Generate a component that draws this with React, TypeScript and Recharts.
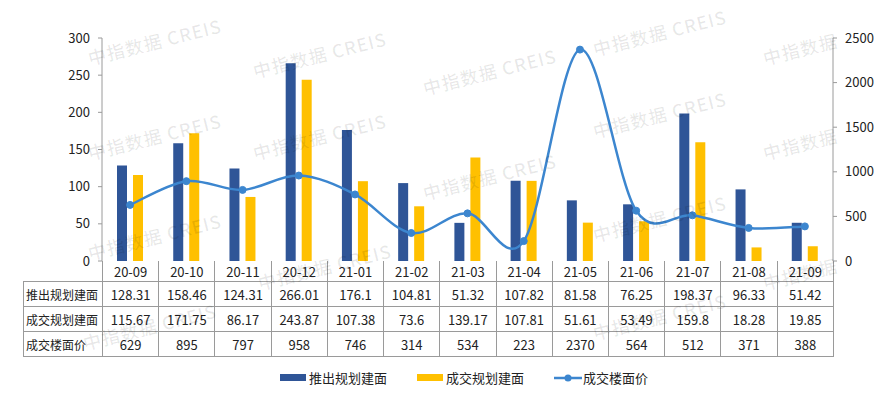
import { ComposedChart, Bar, Line, XAxis, YAxis } from "recharts";

const months = ["20-09", "20-10", "20-11", "20-12", "21-01", "21-02", "21-03", "21-04", "21-05", "21-06", "21-07", "21-08", "21-09"];
const launched = [128.31, 158.46, 124.31, 266.01, 176.1, 104.81, 51.32, 107.82, 81.58, 76.25, 198.37, 96.33, 51.42];
const traded = [115.67, 171.75, 86.17, 243.87, 107.38, 73.6, 139.17, 107.81, 51.61, 53.49, 159.8, 18.28, 19.85];
const price = [629, 895, 797, 958, 746, 314, 534, 223, 2370, 564, 512, 371, 388];

const seriesNames = ["推出规划建面", "成交规划建面", "成交楼面价"];
const leftTicks = [0, 50, 100, 150, 200, 250, 300];
const rightTicks = [0, 500, 1000, 1500, 2000, 2500];

const BLUE = "#2F5597";
const YELLOW = "#FFC000";
const LINE = "#3C86CF";
const GRID = "#9a9a9a";
const FONT = '"Noto Sans CJK SC", "Noto Sans", sans-serif';

const W = 882;
const H = 395;
const PLOT_L = 102;
const PLOT_R = 833;
const PLOT_T = 38;
const PLOT_B = 261;

// watermark spots, rough reading of the tiled stamp
const marks: [number, number, string][] = [
  [85, 45, "中指数据 CREIS"], [250, 140, "中指数据 CREIS"], [85, 140, "中指数据 CREIS"],
  [85, 240, "中指数据 CREIS"], [255, 270, "中指数据 CREIS"], [420, 75, "中指数据 CREIS"],
  [420, 180, "中指数据 CREIS"], [590, 36, "中指数据 CREIS"], [590, 118, "中指数据 CREIS"],
  [590, 222, "中指数据 CREIS"], [760, 45, "中指数据"], [760, 140, "中指数据"],
  [250, 58, "中指数据 CREIS"], [80, 330, "中指数据 CREIS"], [590, 320, "中指数据 CREIS"],
  [760, 270, "中指数据"],
];

const data = months.map((m, i) => ({
  month: m,
  launched: launched[i],
  traded: traded[i],
  price: price[i],
}));

// Excel style smoothed line (Catmull-Rom -> bezier)
function excelCurve(context: any) {
  let pts: [number, number][] = [];
  return {
    areaStart() {},
    areaEnd() {},
    lineStart() {
      pts = [];
    },
    point(x: number, y: number) {
      pts.push([+x, +y]);
    },
    lineEnd() {
      if (!pts.length) return;
      context.moveTo(pts[0][0], pts[0][1]);
      for (let i = 0; i < pts.length - 1; i++) {
        const p0 = pts[i - 1] || pts[i];
        const p1 = pts[i];
        const p2 = pts[i + 1];
        const p3 = pts[i + 2] || p2;
        context.bezierCurveTo(
          p1[0] + (p2[0] - p0[0]) / 6,
          p1[1] + (p2[1] - p0[1]) / 6,
          p2[0] - (p3[0] - p1[0]) / 6,
          p2[1] - (p3[1] - p1[1]) / 6,
          p2[0],
          p2[1]
        );
      }
    },
  };
}

const cell: React.CSSProperties = {
  border: `1px solid ${GRID}`,
  textAlign: "center",
  padding: 0,
  height: 24,
  whiteSpace: "nowrap",
  overflow: "hidden",
};

const rows: [string, (string | number)[]][] = [
  [seriesNames[0], launched],
  [seriesNames[1], traded],
  [seriesNames[2], price],
];

export default function App() {
  const colW = (PLOT_R - PLOT_L) / months.length;
  return (
    <div style={{ position: "relative", width: W, height: H, background: "#fff", fontFamily: FONT, color: "#222", overflow: "hidden" }}>
      <style>{"body{margin:0}"}</style>
      <ComposedChart
        width={W}
        height={H}
        data={data}
        margin={{ top: PLOT_T, right: 0, bottom: H - PLOT_B, left: 0 }}
        barGap={6}
        barCategoryGap={0}
      >
        <XAxis dataKey="month" xAxisId="x" tick={false} tickLine={false} height={0} axisLine={{ stroke: GRID }} />
        <YAxis
          yAxisId="left"
          width={PLOT_L}
          domain={[0, 300]}
          ticks={leftTicks}
          tickSize={4}
          tickMargin={8}
          tickLine={{ stroke: GRID }}
          axisLine={{ stroke: GRID }}
          tick={{ fontSize: 13, fill: "#222", fontFamily: FONT }}
        />
        <YAxis
          yAxisId="right"
          orientation="right"
          width={W - PLOT_R}
          domain={[0, 2500]}
          ticks={rightTicks}
          tickSize={4}
          tickMargin={8}
          tickLine={{ stroke: GRID }}
          axisLine={{ stroke: GRID }}
          tick={{ fontSize: 13, fill: "#222", fontFamily: FONT, textAnchor: "start" }}
        />
        <Bar xAxisId="x" yAxisId="left" dataKey="launched" name={seriesNames[0]} fill={BLUE} barSize={10} isAnimationActive={false} />
        <Bar xAxisId="x" yAxisId="left" dataKey="traded" name={seriesNames[1]} fill={YELLOW} barSize={10} isAnimationActive={false} />
        <Line
          xAxisId="x"
          yAxisId="right"
          dataKey="price"
          name={seriesNames[2]}
          type={excelCurve as any}
          stroke={LINE}
          strokeWidth={2.5}
          dot={{ r: 3.5, fill: LINE, stroke: LINE, strokeWidth: 1 }}
          isAnimationActive={false}
        />
      </ComposedChart>

      <table
        style={{
          position: "absolute",
          left: 23,
          top: PLOT_B,
          width: PLOT_R - 23 + 1,
          borderCollapse: "collapse",
          tableLayout: "fixed",
          fontSize: 13,
          fontFamily: FONT,
        }}
      >
        <colgroup>
          <col style={{ width: PLOT_L - 23 }} />
          {months.map((m) => (
            <col key={m} style={{ width: colW }} />
          ))}
        </colgroup>
        <tbody>
          <tr>
            <td style={{ ...cell, border: "none", height: 20 }} />
            {months.map((m) => (
              <td key={m} style={{ ...cell, borderTop: "none", height: 20 }}>
                {m}
              </td>
            ))}
          </tr>
          {rows.map(([label, vals]) => (
            <tr key={label}>
              <td style={{ ...cell, textAlign: "left", paddingLeft: 2, fontSize: 12 }}>{label}</td>
              {vals.map((v, i) => (
                <td key={i} style={cell}>
                  {v}
                </td>
              ))}
            </tr>
          ))}
        </tbody>
      </table>

      <div style={{ position: "absolute", top: 368, left: 280, display: "flex", alignItems: "center", fontSize: 13, color: "#222" }}>
        <span style={{ width: 26, height: 7, background: BLUE, marginRight: 3 }} />
        <span style={{ marginRight: 30 }}>{seriesNames[0]}</span>
        <span style={{ width: 26, height: 7, background: YELLOW, marginRight: 3 }} />
        <span style={{ marginRight: 30 }}>{seriesNames[1]}</span>
        <svg width={28} height={10} style={{ marginRight: 1 }}>
          <line x1={0} y1={5} x2={28} y2={5} stroke={LINE} strokeWidth={2.5} />
          <circle cx={14} cy={5} r={3.5} fill={LINE} />
        </svg>
        <span>{seriesNames[2]}</span>
      </div>

      {marks.map(([x, y, t], i) => (
        <div
          key={i}
          style={{
            position: "absolute",
            left: x,
            top: y,
            fontSize: 18,
            fontWeight: 500,
            color: "rgba(0,0,0,0.09)",
            transform: "rotate(-14deg)",
            transformOrigin: "left top",
            whiteSpace: "nowrap",
            pointerEvents: "none",
            letterSpacing: 1,
          }}
        >
          {t}
        </div>
      ))}
    </div>
  );
}
